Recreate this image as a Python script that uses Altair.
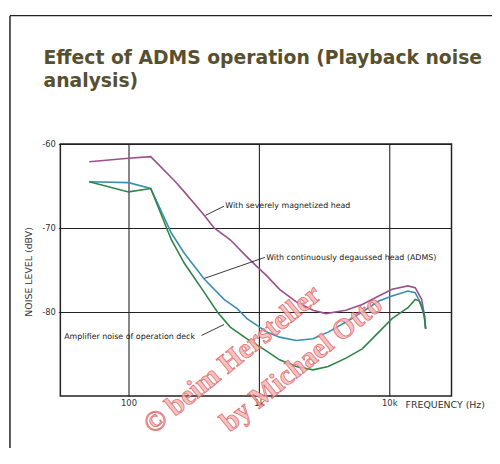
import altair as alt
import pandas as pd

# --- data ---
mag_freq = [50, 100, 148, 226, 268, 382, 453, 603, 781, 967, 1150, 1440, 1935, 2600,
            3270, 4650, 6200, 8300, 10500, 13900, 15800, 17700, 18600, 19000]
mag_db = [-62.1, -61.7, -61.5, -64.4, -65.7, -68.5, -70.0, -71.4, -73.2, -74.6, -75.7,
          -77.3, -78.8, -79.8, -80.2, -79.8, -79.1, -78.1, -77.3, -76.9, -77.1, -78.5,
          -80.4, -82.0]

adms_freq = [50, 100, 148, 213, 268, 382, 540, 681, 810, 967, 1150, 1440, 1935, 2600,
             3400, 4650, 6200, 8300, 10500, 13900, 15800, 17700, 18600, 19000]
adms_db = [-64.5, -64.6, -65.3, -70.6, -73.0, -76.1, -78.5, -79.6, -80.8, -81.6, -82.4,
           -83.0, -83.4, -83.2, -82.4, -81.2, -80.0, -78.7, -78.1, -77.5, -77.7, -79.2,
           -80.8, -82.0]

amp_freq = [50, 100, 148, 213, 268, 382, 480, 603, 810, 1080, 1440, 1935, 2600, 3400,
            4650, 6200, 8300, 10500, 13900, 15800, 17000, 18600, 19000]
amp_db = [-64.5, -65.7, -65.3, -71.4, -74.2, -77.7, -80.0, -81.8, -83.2, -84.4, -85.7,
          -86.5, -86.9, -86.5, -85.5, -84.4, -82.4, -80.8, -79.5, -78.5, -78.7, -80.4,
          -82.0]

series_names = ["With severely magnetized head",
                "With continuously degaussed head (ADMS)",
                "Amplifier noise of operation deck"]
series_colors = ["#9c4f8e", "#3a8fb0", "#2f8548"]

x_ticks = [100, 1000, 10000]
y_ticks = [-60, -70, -80]

title_lines = ["Effect of ADMS operation (Playback noise", "analysis)"]
watermark_lines = ["\u00a9 beim Hersteller", "by Michael Otto"]

# annotation label anchors (frequency, dB) and leader lines
ann_freq = [552, 1137, 32.1]
ann_db = [-67.4, -73.6, -83.0]
lead_f1 = [540, 1110, 363]
lead_d1 = [-67.4, -73.5, -82.8]
lead_f2 = [389, 382, 540]
lead_d2 = [-68.5, -76.0, -81.5]

rows = []
for name, fr, db in zip(series_names, [mag_freq, adms_freq, amp_freq], [mag_db, adms_db, amp_db]):
    for i, (f, d) in enumerate(zip(fr, db)):
        rows.append({"series": name, "freq": f, "db": d, "order": i})
df = pd.DataFrame(rows)

ann_df = pd.DataFrame({"label": series_names, "freq": ann_freq, "db": ann_db})
lead_df = pd.DataFrame({"f1": lead_f1, "d1": lead_d1, "f2": lead_f2, "d2": lead_d2})

FONT = "DejaVu Sans"
xscale = alt.Scale(type="log", domain=[30, 30000], nice=False)
yscale = alt.Scale(domain=[-90, -60], nice=False)

xaxis = alt.Axis(values=x_ticks, grid=True, gridColor="#222", gridWidth=1.1,
                 ticks=False, domain=False,
                 labelExpr="datum.value == 100 ? '100' : datum.value == 1000 ? '1k' : '10k'",
                 labelFont=FONT, labelFontSize=8.5, labelColor="#333",
                 labelPadding=3, title="FREQUENCY (Hz)", titleFont=FONT,
                 titleFontSize=9.5, titleFontWeight="normal", titleColor="#333",
                 titleAlign="left", titleX=349, titleY=12, titleBaseline="alphabetic")
yaxis = alt.Axis(values=y_ticks, grid=True, gridColor="#222", gridWidth=1.1,
                 ticks=True, tickSize=2, tickColor="#222", domain=False,
                 labelExpr="'-' + abs(datum.value)",
                 labelFont=FONT, labelFontSize=8.5, labelColor="#333",
                 labelPadding=3, title="NOISE LEVEL (dBV)", titleFont=FONT,
                 titleFontSize=9.5, titleFontWeight="normal", titleColor="#333",
                 titleX=-32, titleY=129, titleAngle=-90, titleBaseline="middle",
                 titleAlign="center")

lines = alt.Chart(df).mark_line(strokeWidth=1.6).encode(
    x=alt.X("freq:Q", scale=xscale, axis=xaxis),
    y=alt.Y("db:Q", scale=yscale, axis=yaxis),
    color=alt.Color("series:N", scale=alt.Scale(domain=series_names, range=series_colors), legend=None),
    order="order:Q",
)

ann = alt.Chart(ann_df).mark_text(align="left", baseline="middle", font=FONT,
                                  fontSize=8, color="#222").encode(
    x=alt.X("freq:Q", scale=xscale), y=alt.Y("db:Q", scale=yscale), text="label:N")

leaders = alt.Chart(lead_df).mark_rule(color="#222", strokeWidth=0.9).encode(
    x=alt.X("f1:Q", scale=xscale), y=alt.Y("d1:Q", scale=yscale),
    x2="f2:Q", y2="d2:Q")

one = pd.DataFrame({"a": [0]})
title1 = alt.Chart(one).mark_text(align="left", baseline="alphabetic", font=FONT,
                                  fontSize=19, fontWeight="bold", color="#57502f").encode(
    x=alt.value(-17), y=alt.value(-81), text=alt.value(title_lines[0]))
title2 = alt.Chart(one).mark_text(align="left", baseline="alphabetic", font=FONT,
                                  fontSize=19, fontWeight="bold", color="#57502f").encode(
    x=alt.value(-17), y=alt.value(-58), text=alt.value(title_lines[1]))

frame_top = alt.Chart(one).mark_rule(color="#222", strokeWidth=1.5).encode(
    x=alt.value(-51), x2=alt.value(440), y=alt.value(-130))
frame_left = alt.Chart(one).mark_rule(color="#222", strokeWidth=1.5).encode(
    x=alt.value(-51), y=alt.value(-130), y2=alt.value(310))

wm_style = dict(align="center", baseline="middle", font="Liberation Serif",
                fontSize=29, fontWeight="bold", angle=321, color="#f2b8b8",
                stroke="#dc5a5a", strokeWidth=0.8, opacity=0.85)
wm1 = alt.Chart(one).mark_text(**wm_style).encode(
    x=alt.value(174), y=alt.value(218), text=alt.value(watermark_lines[0]))
wm2 = alt.Chart(one).mark_text(**wm_style).encode(
    x=alt.value(244), y=alt.value(222), text=alt.value(watermark_lines[1]))

chart = alt.layer(lines, leaders, ann, wm1, wm2, title1, title2, frame_top, frame_left).properties(
    width=396, height=255,
    autosize="none",
    padding={"left": 53, "top": 135, "right": 41, "bottom": 50},
    background="white",
).configure_view(stroke="#222", strokeWidth=1.5)

chart.save("out.html", embed_options={"renderer": "svg", "actions": False})
